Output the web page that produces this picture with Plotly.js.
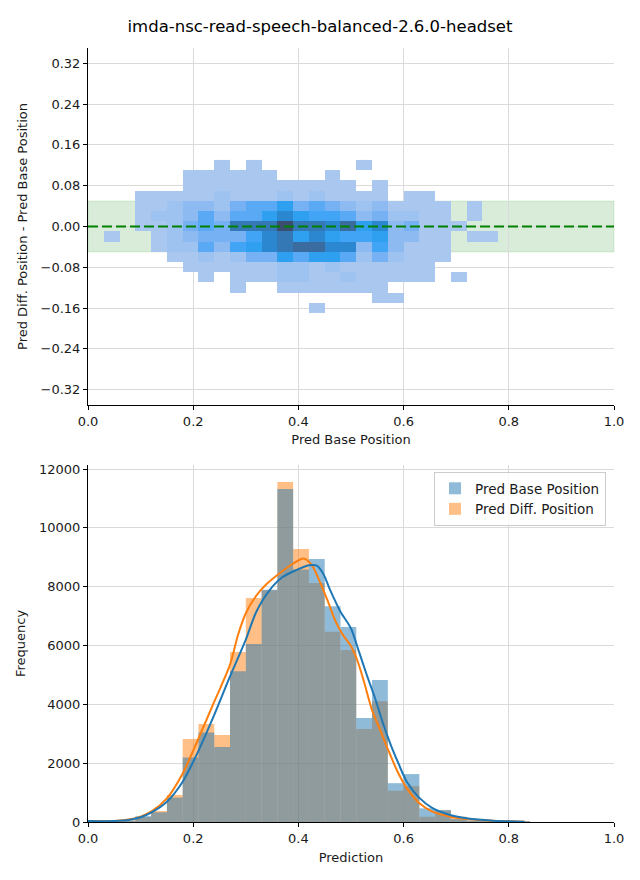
<!DOCTYPE html>
<html>
<head>
<meta charset="utf-8">
<script src="https://cdn.plot.ly/plotly-3.0.1.min.js"></script>
<style>html,body{margin:0;padding:0;background:#fff}#chart{width:640px;height:880px}</style>
</head>
<body>
<div id="chart"></div>
<script>
// ---------------- DATA ----------------
const chartTitle = "imda-nsc-read-speech-balanced-2.6.0-headset";
const seriesNames = ["Pred Base Position", "Pred Diff. Position"];

// shared x bin edges (prediction value)
const binEdges = [0.00,0.03,0.06,0.09,0.12,0.15,0.18,0.21,0.24,0.27,0.30,0.33,0.36,0.39,0.42,0.45,0.48,0.51,0.54,0.57,0.60,0.63,0.66,0.69,0.72,0.75,0.78,0.81,0.84];

// bottom histogram counts per bin
const histBase = [50,50,50,200,330,830,2190,3040,2550,5130,6050,7900,11320,8590,8940,7340,6630,3540,4830,1320,1630,465,410,100,50,50,50,30];
const histDiff = [50,50,50,170,375,920,2820,3330,2960,5780,7620,7880,11560,9280,8130,6470,5850,3160,4110,1065,1220,180,390,180,50,50,50,30];

// KDE curves
const kdeXBase = [0.00,0.05,0.08,0.10,0.12,0.15,0.18,0.21,0.24,0.27,0.30,0.32,0.345,0.37,0.395,0.42,0.435,0.447,0.46,0.48,0.50,0.515,0.53,0.545,0.56,0.575,0.59,0.606,0.63,0.655,0.69,0.72,0.77,0.83];
const kdeYBase = [30,35,80,160,320,690,1370,2420,3640,4950,6200,7150,7880,8330,8560,8730,8720,8450,7900,7150,6580,5800,5000,4250,3400,2650,2000,1370,820,470,230,125,45,10];
const kdeXDiff = [0.00,0.05,0.08,0.10,0.12,0.15,0.18,0.21,0.24,0.27,0.285,0.30,0.32,0.34,0.36,0.39,0.41,0.425,0.44,0.455,0.47,0.485,0.50,0.512,0.525,0.54,0.555,0.57,0.587,0.606,0.63,0.655,0.69,0.72,0.77,0.83];
const kdeYDiff = [30,35,90,180,350,805,1650,2840,4090,5350,6350,7100,7700,8100,8400,8790,8960,8750,8200,7550,6850,6350,5980,5500,4750,3800,3150,2480,1770,1150,640,355,180,100,44,10];

// top 2D histogram: y bin edges (diff - base) and counts (rows bottom -> top, columns = binEdges bins)
const yBinEdges = [-0.1695,-0.1495,-0.1295,-0.1095,-0.0895,-0.0695,-0.0495,-0.0295,-0.0095,0.0105,0.0305,0.0505,0.0705,0.0905,0.1105,0.1305];
const heatCounts = [
  [0,0,0,0,0,0,0,0,0,0,0,0,0,0,1,0,0,0,0,0,0,0,0,0,0,0,0],
  [0,0,0,0,0,0,0,0,0,0,0,0,0,0,0,0,0,0,1,1,0,0,0,0,0,0,0],
  [0,0,0,0,0,0,0,0,0,1,0,0,1,1,1,1,1,1,1,0,0,0,0,0,0,0,0],
  [0,0,0,0,0,0,0,1,0,1,1,1,2,2,1,1,2,1,1,1,1,1,0,1,0,0,0],
  [0,0,0,0,0,0,1,1,1,1,1,1,2,2,1,2,1,1,1,1,1,1,0,0,0,0,0],
  [0,0,0,0,0,1,1,2,1,2,4,4,7,5,7,7,5,2,4,2,1,1,1,0,0,0,0],
  [0,0,0,0,1,2,2,5,3,6,7,8,9,10,10,8,8,3,6,3,1,1,1,0,0,0,0],
  [0,1,0,0,1,2,3,4,4,4,6,8,9,7,8,7,6,6,7,3,3,1,1,0,1,1,0],
  [0,0,0,1,1,2,4,5,4,9,9,9,11,9,9,8,10,7,8,3,4,1,1,1,0,0,0],
  [0,0,0,1,2,2,3,5,3,5,5,7,8,7,6,6,5,3,4,2,2,1,1,0,1,0,0],
  [0,0,0,1,1,2,3,3,2,4,5,5,7,4,5,4,3,2,3,1,1,1,1,0,1,0,0],
  [0,0,0,1,1,1,1,1,2,1,1,1,2,1,2,1,1,1,1,0,1,1,0,0,0,0,0],
  [0,0,0,0,0,0,1,1,1,1,1,1,1,1,1,1,1,0,1,0,0,0,0,0,0,0,0],
  [0,0,0,0,0,0,1,1,1,1,1,1,0,0,0,1,0,0,0,0,0,0,0,0,0,0,0],
  [0,0,0,0,0,0,0,0,1,0,1,0,0,0,0,0,0,1,0,0,0,0,0,0,0,0,0]
];
const refLine = 0;
const tolBand = 0.05;

// ticks
const topYTicks = [-0.32,-0.24,-0.16,-0.08,0,0.08,0.16,0.24,0.32];
const xTicks = [0,0.2,0.4,0.6,0.8,1.0];
const freqTicks = [0,2000,4000,6000,8000,10000,12000];

// ---------------- BUILD ----------------
const font = "DejaVu Sans, Liberation Sans, sans-serif";
const textCol = "#1a1a1a";
const gridCol = "#dadada";
const blue = "#1f77b4", orange = "#ff7f0e";

const leftEdges = binEdges.slice(0, -1);
const widths = leftEdges.map((e, i) => binEdges[i + 1] - e);

const heatZ = heatCounts.map(r => r.map(v => v > 0 ? v : null));
const heatColors = ["#a9c7ef","#9fc3f0","#8dbbf1","#76b2f3","#5aa9f5","#42a4f5","#2f9ff0","#2b88d0","#3478b5","#3a6ca0","#3c4e70"];
const heatScale = heatColors.map((c, i) => [i / (heatColors.length - 1), c]);

const traces = [
  {
    type: "heatmap", x: binEdges.slice(0, heatCounts[0].length + 1), y: yBinEdges, z: heatZ,
    colorscale: heatScale, zmin: 1, zmax: heatColors.length, showscale: false,
    hoverinfo: "skip", xaxis: "x", yaxis: "y", showlegend: false
  },
  {
    type: "bar", name: seriesNames[1], x: leftEdges, y: histDiff, width: widths, offset: 0,
    marker: {color: "rgba(255,127,14,0.5)", line: {width: 0}}, xaxis: "x2", yaxis: "y2", legendrank: 2
  },
  {
    type: "bar", name: seriesNames[0], x: leftEdges, y: histBase, width: widths, offset: 0,
    marker: {color: "rgba(31,119,180,0.5)", line: {width: 0}}, xaxis: "x2", yaxis: "y2", legendrank: 1
  },
  {
    type: "scatter", mode: "lines", x: kdeXDiff, y: kdeYDiff, line: {color: orange, width: 2, shape: "spline", smoothing: 0.8},
    xaxis: "x2", yaxis: "y2", showlegend: false, hoverinfo: "skip"
  },
  {
    type: "scatter", mode: "lines", x: kdeXBase, y: kdeYBase, line: {color: blue, width: 2, shape: "spline", smoothing: 0.8},
    xaxis: "x2", yaxis: "y2", showlegend: false, hoverinfo: "skip"
  }
];

const axBase = {
  showline: true, linecolor: "#000", linewidth: 1, ticks: "outside", ticklen: 4, tickcolor: "#000", tickwidth: 1,
  showgrid: true, gridcolor: gridCol, gridwidth: 1, zeroline: false, mirror: false,
  tickfont: {family: font, size: 13, color: textCol}, automargin: false
};
const xDom = [88 / 640, 614 / 640];

const layout = {
  width: 640, height: 880,
  margin: {l: 0, r: 0, t: 0, b: 0},
  paper_bgcolor: "#fff", plot_bgcolor: "#fff",
  font: {family: font, size: 13, color: textCol},
  title: {text: chartTitle, x: 0.5, xanchor: "center", y: 1 - 26 / 880, yanchor: "middle", font: {family: font, size: 16.5, color: "#000"}},
  barmode: "overlay",
  showlegend: true,
  legend: {
    x: 606 / 640, xanchor: "right", y: (880 - 472) / 880, yanchor: "top",
    bgcolor: "rgba(255,255,255,0.8)", bordercolor: "#cccccc", borderwidth: 1,
    font: {family: font, size: 13.5, color: textCol}, traceorder: "normal", itemwidth: 30, tracegroupgap: 0
  },
  xaxis: Object.assign({}, axBase, {
    domain: xDom, anchor: "y", range: [0, 1], tickvals: xTicks, tickformat: ".1f",
    title: {text: "Pred Base Position", font: {family: font, size: 13, color: textCol}, standoff: 7}
  }),
  yaxis: Object.assign({}, axBase, {
    domain: [1 - 405 / 880, 1 - 48 / 880], anchor: "x", range: [-0.35, 0.35], tickvals: topYTicks, tickformat: ".2f",
    title: {text: "Pred Diff. Position - Pred Base Position", font: {family: font, size: 13, color: textCol}, standoff: 10}
  }),
  xaxis2: Object.assign({}, axBase, {
    domain: xDom, anchor: "y2", range: [0, 1], tickvals: xTicks, tickformat: ".1f",
    title: {text: "Prediction", font: {family: font, size: 13, color: textCol}, standoff: 8}
  }),
  yaxis2: Object.assign({}, axBase, {
    domain: [1 - 822 / 880, 1 - 465 / 880], anchor: "x2", range: [0, 12140], tickvals: freqTicks, tickformat: "d",
    title: {text: "Frequency", font: {family: font, size: 13, color: textCol}, standoff: 10}
  }),
  shapes: [
    {type: "rect", xref: "x domain", yref: "y", x0: 0, x1: 1, y0: -tolBand, y1: tolBand,
     fillcolor: "rgba(0,128,0,0.15)", line: {width: 1, color: "rgba(0,128,0,0.12)"}, layer: "below"},
    {type: "line", xref: "x domain", yref: "y", x0: 0, x1: 1, y0: refLine, y1: refLine,
     line: {color: "#008000", width: 2.2, dash: "10px,4px"}, layer: "above"}
  ]
};

Plotly.newPlot("chart", traces, layout, {staticPlot: true, displayModeBar: false});
</script>
</body>
</html>
